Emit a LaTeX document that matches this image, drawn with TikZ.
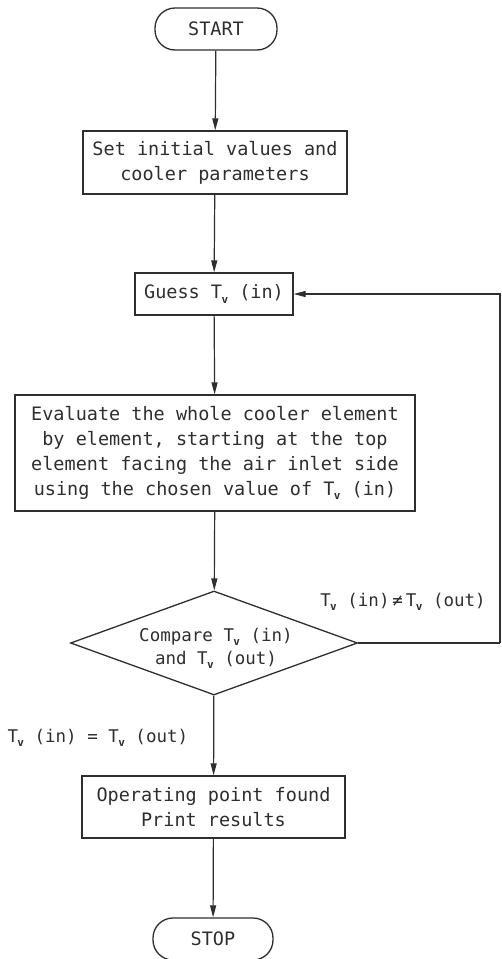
\documentclass[tikz,border=0pt]{standalone}
\usepackage{fontspec}
\setmonofont{DejaVu Sans Mono}
\usetikzlibrary{arrows.meta,shapes.geometric}
\definecolor{ink}{HTML}{2E2E2E}
% temperature symbol T with a small bold v as subscript
\newcommand{\Tvar}{T\kern-0.6pt\raisebox{-0.45ex}{\fontsize{11}{11}\selectfont\bfseries v}}
\begin{document}
\begin{tikzpicture}[x=1pt,y=-1pt,
  every node/.style={text=ink,font=\ttfamily\fontsize{18.5}{25}\selectfont},
  flow/.style={draw=ink,line width=1.3pt},
  terminal/.style={flow,rectangle,rounded corners=20pt,inner sep=0pt},
  process/.style={flow,rectangle,inner sep=0pt,align=center},
  decision/.style={flow,diamond,inner sep=0pt},
  small/.style={font=\ttfamily\fontsize{17.5}{23}\selectfont},
  link/.style={draw=ink,line width=1.2pt,-{Triangle[length=12pt,width=6pt]}},
  plain/.style={draw=ink,line width=1.2pt}]
\useasboundingbox (0,0) rectangle (502,959);

\node[terminal,minimum width=122pt,minimum height=42pt] (start) at (216,29) {START};
\node[process,minimum width=264pt,minimum height=63pt] (init) at (215,162.5)
  {Set initial values and\\cooler parameters};
\node[process,minimum width=158pt,minimum height=42pt] (guess) at (214,294)
  {Guess \Tvar\ (in)};
\node[process,minimum width=400pt,minimum height=116pt] (eval) at (215,453)
  {Evaluate the whole cooler element\\by element, starting at the top\\element facing the air inlet side\\using the chosen value of \Tvar\ (in)};
\node[decision,minimum width=287pt,minimum height=104pt] (cmp) at (214,643) {};
\node[small,align=center] (cmptext) at (216,648) {Compare \Tvar\ (in)\\and \Tvar\ (out)};
\node[process,minimum width=263pt,minimum height=62pt] (found) at (213.5,807)
  {Operating point found\\Print results};
\node[terminal,minimum width=120pt,minimum height=42pt] (stop) at (213,939) {STOP};

\node[small] (ne) at (403,602) {\Tvar\ (in)\,≠\,\Tvar\ (out)};
\node[small,anchor=west] (eq) at (4,738) {\Tvar\ (in) = \Tvar\ (out)};

\coordinate (back) at (500,643);

\draw[link] (start) -- (init);
\draw[link] (init) -- (guess);
\draw[link] (guess) -- (eval);
\draw[link] (eval) -- (cmp);
\draw[link] (cmp) -- (found);
\draw[link] (found) -- (stop);
\draw[plain] (cmp.east) -- (back);
\draw[link] (back) |- (guess.east);
\end{tikzpicture}
\end{document}
